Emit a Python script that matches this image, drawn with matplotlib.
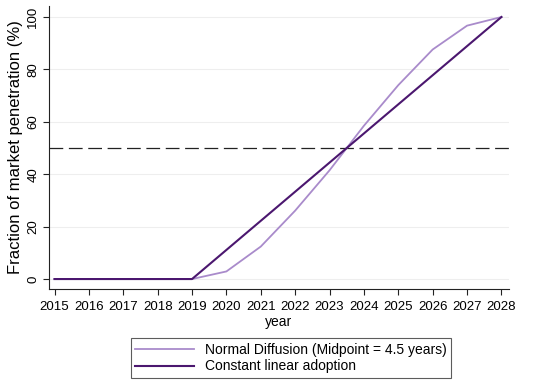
import matplotlib
matplotlib.use("Agg")
import matplotlib.pyplot as plt
from matplotlib.lines import Line2D

years = [2015, 2016, 2017, 2018, 2019, 2020, 2021, 2022, 2023, 2024, 2025, 2026, 2027, 2028]
normal_diffusion = [0, 0, 0, 0, 0, 2.9, 12.4, 26.1, 41.5, 58.5, 74.0, 87.6, 96.7, 100]
linear_adoption = [0, 0, 0, 0, 0, 11.11, 22.22, 33.33, 44.44, 55.56, 66.67, 77.78, 88.89, 100]
yticks = [0, 20, 40, 60, 80, 100]
threshold = 50

plt.rcParams['font.family'] = ['Liberation Sans', 'DejaVu Sans']

fig = plt.figure(figsize=(5.5, 3.86), dpi=100)
ax = fig.add_axes([49/550, 1-289/386, (509-49)/550, (289-6)/386])

c_norm = '#a98bcb'
c_lin = '#4b176f'

for y in yticks:
    ax.axhline(y, color='#eeeeee', lw=0.8, zorder=0)
ax.axhline(threshold, color='#222222', lw=0.9, dashes=(11, 4.5), zorder=1)
ax.plot(years, normal_diffusion, color=c_norm, lw=1.3, zorder=2)
ax.plot(years, linear_adoption, color=c_lin, lw=1.5, zorder=3)

ax.set_xlim(2014.84, 2028.22)
ax.set_ylim(-3.8, 104.2)
ax.set_xticks(years)
ax.set_xticklabels([str(y) for y in years], fontsize=9.5)
ax.set_yticks(yticks)
ax.set_yticklabels([str(y) for y in yticks], fontsize=9.5, rotation=90, va='center')
ax.tick_params(axis='both', length=4, width=0.8, color='#222222')
ax.tick_params(axis='x', pad=5)
ax.tick_params(axis='y', pad=3)
for s in ['top', 'right']:
    ax.spines[s].set_visible(False)
for s in ['left', 'bottom']:
    ax.spines[s].set_color('#222222')
    ax.spines[s].set_linewidth(0.8)
ax.set_xlabel('year', fontsize=10, labelpad=1)
ax.set_ylabel('Fraction of market penetration (%)', fontsize=12, labelpad=3)

handles = [Line2D([], [], color=c_norm, lw=1.3), Line2D([], [], color=c_lin, lw=1.5)]
leg = fig.legend(handles, ['Normal Diffusion (Midpoint = 4.5 years)', 'Constant linear adoption'],
                 loc='center', bbox_to_anchor=(291/550, 1-358/386), fontsize=10,
                 frameon=True, fancybox=False, edgecolor='#333333', handlelength=4.2,
                 borderpad=0.35, labelspacing=0.2, handletextpad=0.8)
leg.get_frame().set_linewidth(0.8)

fig.savefig('out.png', dpi=100)
